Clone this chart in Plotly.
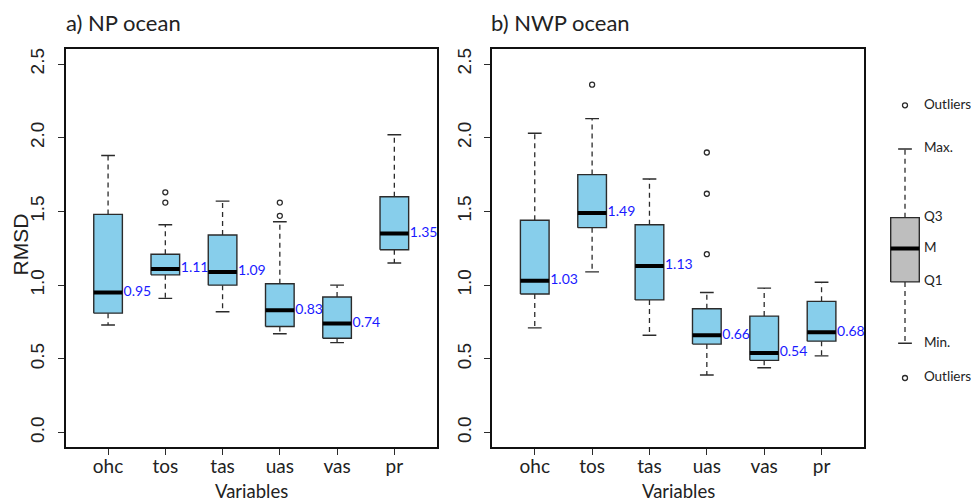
import plotly.graph_objects as go

# ---------------- data ----------------
categories = ["ohc", "tos", "tas", "uas", "vas", "pr"]

# a) NP ocean
np_min = [0.73, 0.91, 0.82, 0.67, 0.61, 1.15]
np_q1 = [0.81, 1.07, 1.00, 0.72, 0.64, 1.24]
np_med = [0.95, 1.11, 1.09, 0.83, 0.74, 1.35]
np_q3 = [1.48, 1.21, 1.34, 1.01, 0.92, 1.60]
np_max = [1.88, 1.41, 1.57, 1.43, 1.00, 2.02]
np_out = [[], [1.56, 1.63], [], [1.47, 1.56], [], []]

# b) NWP ocean
nwp_min = [0.71, 1.09, 0.66, 0.39, 0.44, 0.52]
nwp_q1 = [0.94, 1.39, 0.90, 0.60, 0.49, 0.62]
nwp_med = [1.03, 1.49, 1.13, 0.66, 0.54, 0.68]
nwp_q3 = [1.44, 1.75, 1.41, 0.84, 0.79, 0.89]
nwp_max = [2.03, 2.13, 1.72, 0.95, 0.98, 1.02]
nwp_out = [[], [2.36], [], [1.21, 1.62, 1.90], [], []]

# schematic legend box
leg_labels = ["Outliers", "Max.", "Q3", "M", "Q1", "Min.", "Outliers"]
leg_values = [2.22, 1.924, 1.458, 1.248, 1.022, 0.606, 0.37]

ytick_vals = [0.0, 0.5, 1.0, 1.5, 2.0, 2.5]
ytick_text = ["0.0", "0.5", "1.0", "1.5", "2.0", "2.5"]

# ---------------- styling ----------------
W, H = 971, 502
BOX_FILL = "#87CEEB"
LEG_FILL = "#BEBEBE"
EDGE = "#2b2b2b"
LABEL_BLUE = "#1a1aff"
CAL = "Lato, 'Open Sans', sans-serif"
ARIAL = "'Liberation Sans', Arial, sans-serif"
HW = 0.25      # half box width (x units)
SW = 0.12      # half staple width
YR = [-0.1, 2.6]
XR = [0.26, 6.74]


def px_x(p):
    return p / W


def px_y(p):
    return 1 - p / H


fig = go.Figure()


def add_boxes(xs, mn, q1, md, q3, mx, outs, xa, ya, fill, labels=None):
    wx, wy = [], []
    sx, sy = [], []
    bx, by = [], []
    mxs, mys = [], []
    ox, oy = [], []
    for i, x in enumerate(xs):
        wx += [x, x, None, x, x, None]
        wy += [q3[i], mx[i], None, q1[i], mn[i], None]
        sx += [x - SW, x + SW, None, x - SW, x + SW, None]
        sy += [mx[i], mx[i], None, mn[i], mn[i], None]
        bx += [x - HW, x + HW, x + HW, x - HW, x - HW, None]
        by += [q1[i], q1[i], q3[i], q3[i], q1[i], None]
        mxs += [x - HW, x + HW, None]
        mys += [md[i], md[i], None]
        for o in outs[i]:
            ox.append(x)
            oy.append(o)
    common = dict(xaxis=xa, yaxis=ya, showlegend=False, hoverinfo="skip")
    fig.add_trace(go.Scatter(x=wx, y=wy, mode="lines",
                             line=dict(color=EDGE, width=1.3, dash="5px,4px"), **common))
    fig.add_trace(go.Scatter(x=bx, y=by, mode="lines", fill="toself", fillcolor=fill,
                             line=dict(color=EDGE, width=1.4), **common))
    fig.add_trace(go.Scatter(x=mxs, y=mys, mode="lines",
                             line=dict(color="black", width=4), **common))
    fig.add_trace(go.Scatter(x=sx, y=sy, mode="lines",
                             line=dict(color=EDGE, width=1.4), **common))
    if ox:
        fig.add_trace(go.Scatter(x=ox, y=oy, mode="markers",
                                 marker=dict(symbol="circle-open", size=5, color=EDGE,
                                             line=dict(width=1.3)), **common))
    if labels is not None:
        fig.add_trace(go.Scatter(x=[x + HW + 0.02 for x in xs], y=md, mode="text",
                                 text=labels, textposition="middle right",
                                 textfont=dict(family=CAL, size=14, color=LABEL_BLUE),
                                 cliponaxis=False, **common))


xs = list(range(1, len(categories) + 1))
add_boxes(xs, np_min, np_q1, np_med, np_q3, np_max, np_out, "x", "y", BOX_FILL,
          [f"{v:.2f}" for v in np_med])
add_boxes(xs, nwp_min, nwp_q1, nwp_med, nwp_q3, nwp_max, nwp_out, "x2", "y2", BOX_FILL,
          [f"{v:.2f}" for v in nwp_med])

# legend schematic on its own hidden axes
add_boxes([1], [leg_values[5]], [leg_values[4]], [leg_values[3]], [leg_values[2]],
          [leg_values[1]], [[leg_values[0], leg_values[6]]], "x3", "y3", LEG_FILL)
fig.add_trace(go.Scatter(x=[1.33] * len(leg_labels), y=leg_values, mode="text",
                         text=leg_labels, textposition="middle right",
                         textfont=dict(family=CAL, size=13.5, color="#222"),
                         cliponaxis=False, xaxis="x3", yaxis="y3",
                         showlegend=False, hoverinfo="skip"))

# ---------------- axes ----------------
yd = [px_y(447.3), px_y(49.3)]
xaxis_common = dict(range=XR, tickvals=xs, ticktext=categories, ticks="outside",
                    ticklen=6, tickwidth=1.3, tickcolor=EDGE,
                    ticklabelstandoff=-5,
                    showline=True, mirror=True, linecolor="#111", linewidth=2,
                    showgrid=False, zeroline=False,
                    tickfont=dict(family=CAL, size=19, color="#222"))
yaxis_common = dict(range=YR, tickvals=ytick_vals, ticktext=ytick_text, ticks="outside",
                    ticklen=6, tickwidth=1.3, tickcolor=EDGE, tickangle=-90,
                    ticklabelstandoff=6,
                    showline=True, mirror=True, linecolor="#111", linewidth=2,
                    showgrid=False, zeroline=False, domain=yd,
                    tickfont=dict(family=ARIAL, size=19, color="#222"))

leg_x0, leg_x1, leg_c = 870, 971, 905
ppu = (436.7 - 65.7) / (XR[1] - XR[0])

fig.update_layout(
    width=W, height=H,
    margin=dict(l=0, r=0, t=0, b=0),
    paper_bgcolor="white", plot_bgcolor="white",
    xaxis=dict(domain=[px_x(65.7), px_x(436.7)], anchor="y", **xaxis_common),
    yaxis=dict(anchor="x", **yaxis_common),
    xaxis2=dict(domain=[px_x(492.3), px_x(864)], anchor="y2", **xaxis_common),
    yaxis2=dict(anchor="x2", **yaxis_common),
    xaxis3=dict(domain=[px_x(leg_x0), px_x(leg_x1)], anchor="y3",
                range=[1 - (leg_c - leg_x0) / ppu, 1 + (leg_x1 - leg_c) / ppu],
                visible=False),
    yaxis3=dict(domain=yd, anchor="x3", range=YR, visible=False),
)

ann_font = dict(family=CAL, size=22, color="#222")
fig.add_annotation(text="a) NP ocean", xref="paper", yref="paper",
                   x=px_x(64), y=px_y(23), xanchor="left", yanchor="middle",
                   showarrow=False, font=ann_font)
fig.add_annotation(text="b) NWP ocean", xref="paper", yref="paper",
                   x=px_x(489), y=px_y(23), xanchor="left", yanchor="middle",
                   showarrow=False, font=ann_font)
fig.add_annotation(text="RMSD", xref="paper", yref="paper", textangle=-90,
                   x=px_x(19.5), y=px_y(245), xanchor="center", yanchor="middle",
                   showarrow=False, font=dict(family=ARIAL, size=21, color="#222"))
for cx in [(65.7 + 436.7) / 2, (492.3 + 864) / 2]:
    fig.add_annotation(text="Variables", xref="paper", yref="paper",
                       x=px_x(cx), y=px_y(490.5), xanchor="center", yanchor="middle",
                       showarrow=False, font=dict(family=CAL, size=18.5, color="#222"))

fig.write_html("out.html", config={"displayModeBar": False},
               post_script="document.body.style.margin='0';"
                           "document.body.style.overflow='hidden';")
